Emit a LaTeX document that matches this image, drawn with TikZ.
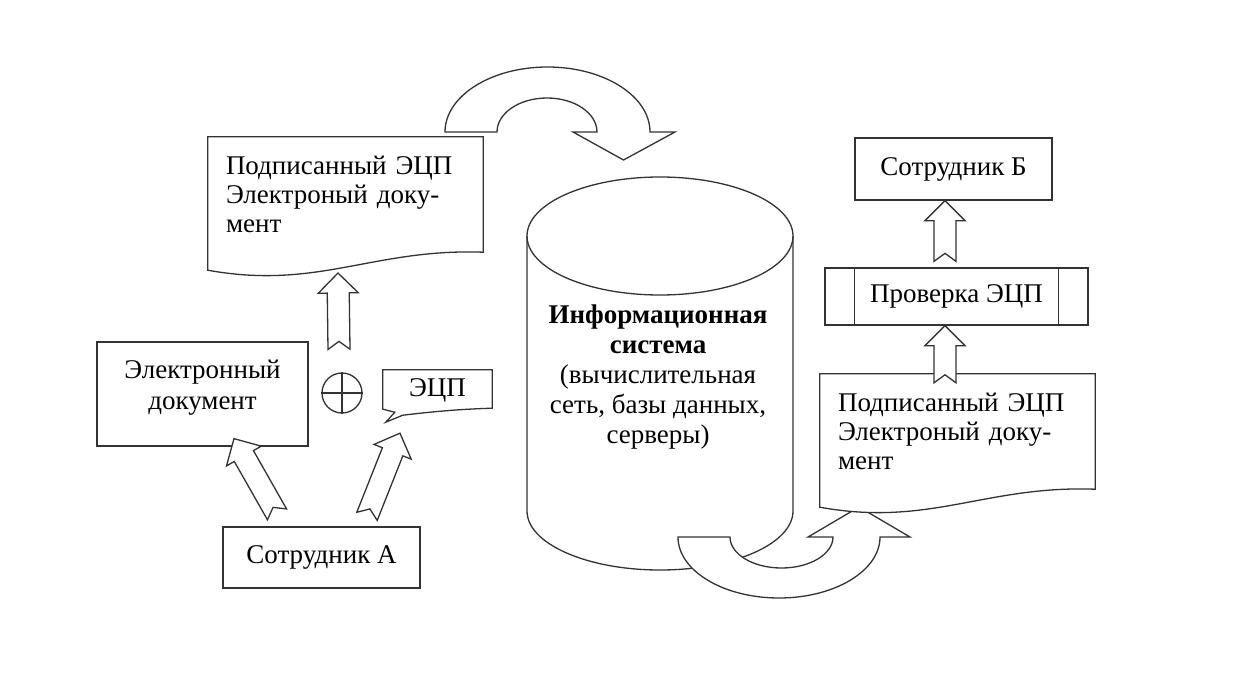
\documentclass[tikz,border=0pt]{standalone}
\usepackage{fontspec}
\setmainfont{Liberation Serif}
\usetikzlibrary{calc,backgrounds}

\tikzset{
  line/.style={draw=black!80, line width=1.3pt},
  box/.style={line, fill=white, inner sep=0pt, align=center, font=\fontsize{27}{31}\selectfont},
  docnode/.style={minimum width=275pt, minimum height=115pt, text width=239pt, inner xsep=18pt,
    inner ysep=0pt, align=left, font=\fontsize{27}{29}\selectfont},
  hollow/.style={line, fill=white, line join=miter},
}

% hollow block arrow with notched tail: #1 tail, #2 tip
\newcommand{\hollowarrow}[2]{%
  \coordinate (hb) at ($(#2)!20pt!(#1)$);
  \draw[hollow] ($(#1)!11pt!90:(#2)$) -- ($(#1)!8pt!(#2)$) -- ($(#1)!11pt!-90:(#2)$)
    -- ($(hb)!11pt!-90:(#2)$) -- ($(hb)!20pt!-90:(#2)$) -- (#2)
    -- ($(hb)!20pt!90:(#2)$) -- ($(hb)!11pt!90:(#2)$) -- cycle;}

% document outline with wavy bottom round a docnode
\newcommand{\docoutline}[1]{%
  \draw[line, fill=white] (#1.north west) -- (#1.north east) -- (#1.south east)
    .. controls ([xshift=-110pt,yshift=4pt]#1.south east) and ([xshift=110pt,yshift=-38pt]#1.south west)
    .. ([yshift=-18pt]#1.south west) -- cycle;}

\begin{document}
\begin{tikzpicture}[x=1pt,y=1pt]
\useasboundingbox (0,0) rectangle (1242,-674);

% left part
\node[docnode] (doc1) at (345.5,-194.5) {Подписанный ЭЦП\\Электроный доку-\\мент};
\node[box, minimum width=211pt, minimum height=104pt, text depth=18pt] (doc2) at (202.5,-394) {Электронный\\документ};
\node[line, circle, minimum size=40pt, inner sep=0pt] (plus) at (342,-393) {};
\draw[line] (plus.north) -- (plus.south) (plus.west) -- (plus.east);
\node[minimum width=109pt, minimum height=40pt, inner sep=0pt, font=\fontsize{27}{31}\selectfont] (ecp) at (437.5,-390) {ЭЦП};
\draw[line] (ecp.north west) -- (ecp.north east) -- ([yshift=2pt]ecp.south east)
  .. controls ([xshift=-35pt,yshift=1pt]ecp.south east) and ([xshift=45pt,yshift=-2pt]ecp.south west)
  .. ([xshift=20pt,yshift=-5pt]ecp.south west) -- ([xshift=3pt,yshift=-12pt]ecp.south west)
  -- ([xshift=12pt,yshift=-2pt]ecp.south west) -- ([yshift=1pt]ecp.south west) -- cycle;
\node[box, minimum width=197pt, minimum height=61pt] (empA) at (321.5,-557.5) {Сотрудник А};

% information system
\coordinate (cyltop) at (660,-236);
\coordinate (cylbot) at (660,-511);
\node[align=center, font=\fontsize{27}{30}\selectfont] (cyl) at (658,-377)
  {\textbf{Информационная}\\\textbf{система}\\(вычислительная\\сеть, базы данных,\\серверы)};

% right part
\node[docnode] (doc3) at (957.5,-431.5) {Подписанный ЭЦП\\Электроный доку-\\мент};
\node[box, minimum width=263pt, minimum height=57pt] (check) at (956.5,-296.5) {Проверка ЭЦП};
\draw[line] ([xshift=30pt]check.north west) -- ([xshift=30pt]check.south west);
\draw[line] ([xshift=-30pt]check.north east) -- ([xshift=-30pt]check.south east);
\node[box, minimum width=197pt, minimum height=62pt] (empB) at (953.5,-169) {Сотрудник Б};

\begin{scope}[on background layer]
\fill[white] (0,0) rectangle (1242,-674);
\draw[line] ([xshift=-133pt]cyltop) -- ([xshift=-133pt]cylbot)
  arc[start angle=180, end angle=360, x radius=133pt, y radius=59pt] -- ([xshift=133pt]cyltop);
\draw[line] (cyltop) ellipse [x radius=133pt, y radius=59pt];
% curved arrow out of the system
\coordinate (lowbend) at (779,-537);
\draw[hollow] ([xshift=-101pt]lowbend) arc[start angle=180, end angle=360, x radius=101pt, y radius=61pt]
  -- ([xshift=131pt]lowbend) -- ([xshift=80pt,yshift=30pt]lowbend) -- ([xshift=29pt]lowbend)
  -- ([xshift=54pt]lowbend) arc[start angle=360, end angle=180, x radius=51.5pt, y radius=31pt] -- cycle;
\docoutline{doc1}
\docoutline{doc3}
\end{scope}

% curved arrow into the system
\coordinate (topbend) at (547.5,-132);
\draw[hollow] ([xshift=-102.5pt]topbend) arc[start angle=180, end angle=0, x radius=102.5pt, y radius=65pt]
  -- ([xshift=127.5pt]topbend) -- ([xshift=76pt,yshift=-28pt]topbend) -- ([xshift=25.5pt]topbend)
  -- ([xshift=49.5pt]topbend) arc[start angle=0, end angle=180, x radius=50pt, y radius=34pt] -- cycle;

% straight arrows
\coordinate (t1) at ([xshift=-44.5pt,yshift=12pt]empA.north);
\coordinate (h1) at ([xshift=31.5pt,yshift=8pt]doc2.south);
\coordinate (t2) at ([xshift=45.5pt,yshift=10pt]empA.north);
\coordinate (h2) at ([xshift=-37.5pt,yshift=-23pt]ecp.south);
\coordinate (t3) at ([xshift=-3pt,yshift=23pt]plus.north);
\coordinate (h3) at (338,-273);
\coordinate (t4) at ([xshift=-12.5pt,yshift=-9pt]doc3.north);
\coordinate (h4) at ([xshift=-11.5pt]check.south);
\coordinate (t5) at ([xshift=-11.5pt,yshift=6pt]check.north);
\coordinate (h5) at ([xshift=-8.5pt]empB.south);
\hollowarrow{t1}{h1}
\hollowarrow{t2}{h2}
\hollowarrow{t3}{h3}
\hollowarrow{t4}{h4}
\hollowarrow{t5}{h5}
\end{tikzpicture}
\end{document}
